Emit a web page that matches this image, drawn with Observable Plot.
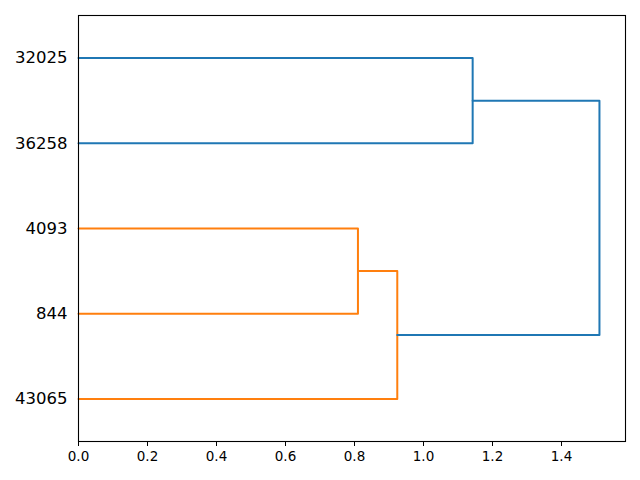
<!DOCTYPE html>
<html>
<head>
<meta charset="utf-8">
<script src="https://cdn.jsdelivr.net/npm/d3@7"></script>
<script src="https://cdn.jsdelivr.net/npm/@observablehq/plot@0.6"></script>
<style>
  html, body { margin: 0; padding: 0; background: #fff; }
  #chart svg { display: block; }
</style>
</head>
<body>
<div id="chart"></div>
<script>
// Leaf labels and their positions (scipy-style leaf coordinates)
const leafLabels = ["43065", "844", "4093", "36258", "32025"];
const leafPositions = [5, 15, 25, 35, 45];

// Link coordinates (scipy dendrogram icoord/dcoord style)
const icoord = [
  [15, 15, 25, 25],
  [5, 5, 20, 20],
  [35, 35, 45, 45],
  [12.5, 12.5, 40, 40]
];
const dcoord = [
  [0, 0.810, 0.810, 0],
  [0, 0.924, 0.924, 0.810],
  [0, 1.1425, 1.1425, 0],
  [0.924, 1.510, 1.510, 1.1425]
];
const linkColors = ["#ff7f0e", "#ff7f0e", "#1f77b4", "#1f77b4"];

const xTicks = [0, 0.2, 0.4, 0.6, 0.8, 1.0, 1.2, 1.4];

const points = [];
icoord.forEach((ic, i) => {
  ic.forEach((yv, j) => {
    points.push({link: i, x: dcoord[i][j], y: yv, color: linkColors[i]});
  });
});

const labelOf = new Map(leafPositions.map((p, i) => [p, leafLabels[i]]));

const chart = Plot.plot({
  width: 640,
  height: 480,
  marginLeft: 78,
  marginRight: 15,
  marginTop: 15,
  marginBottom: 39,
  style: {fontFamily: "DejaVu Sans", background: "#fff", color: "#000"},
  x: {domain: [0, 1.5855]},
  y: {domain: [0, 50]},
  marks: [
    Plot.line(points, {x: "x", y: "y", z: "link", stroke: "color", strokeWidth: 2, curve: "linear"}),
    Plot.frame({stroke: "#000", strokeWidth: 1.1}),
    Plot.axisX({ticks: xTicks, tickFormat: d3.format(".1f"), tickSize: 5, tickPadding: 5, fontSize: 13.5, label: null, stroke: "#000"}),
    Plot.axisY({ticks: leafPositions, tickFormat: d => labelOf.get(d), tickSize: 0, tickPadding: 11, fontSize: 16.5, label: null})
  ]
});
document.getElementById("chart").appendChild(chart);
</script>
</body>
</html>
